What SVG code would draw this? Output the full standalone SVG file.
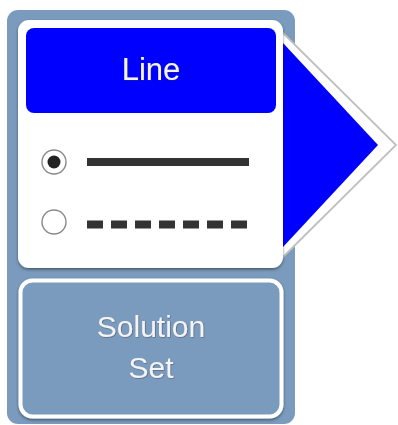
<svg xmlns="http://www.w3.org/2000/svg" width="398" height="425" viewBox="0 0 398 425">
  <defs>
    <filter id="shadow" x="-10%" y="-10%" width="120%" height="125%">
      <feDropShadow dx="0" dy="1.5" stdDeviation="1.5" flood-color="#000" flood-opacity="0.45"/>
    </filter>
    <filter id="txtShadow" x="-10%" y="-10%" width="120%" height="130%">
      <feDropShadow dx="0.6" dy="0.6" stdDeviation="0.4" flood-color="#334" flood-opacity="0.6"/>
    </filter>
  </defs>
  <style>
    .panel { fill: #7a9bbd; }
    .card { fill: #ffffff; }
    .label { font-family: "Liberation Sans", Arial, sans-serif; fill: #f4f4f4; text-anchor: middle; }
    .stroke-dark { stroke: #333333; stroke-width: 8; }
    .radio { fill: #ffffff; stroke: #8a8a8a; stroke-width: 1.4; }
  </style>

  <!-- background panel -->
  <rect class="panel" x="7" y="10" width="288" height="414" rx="11"/>

  <g id="line-card">
    <!-- pointer arrow -->
    <polygon points="281,31 396,145 281,259" fill="#ffffff" stroke="#c0c0c0" stroke-width="1.8"/>
    <polygon points="283,43 378,145 283,247" fill="#0000ff"/>
    <rect class="card" x="18" y="20" width="265" height="248" rx="11" filter="url(#shadow)"/>
    <rect x="26" y="28" width="250" height="85" rx="8" fill="#0000ff"/>
    <text class="label" x="151" y="80" font-size="31" filter="url(#txtShadow)">Line</text>
  </g>

  <g id="option-solid">
    <circle class="radio" cx="54" cy="162" r="12"/>
    <circle cx="54" cy="162" r="6.5" fill="#222222"/>
    <line class="stroke-dark" x1="87" y1="162" x2="249" y2="162"/>
  </g>

  <g id="option-dashed">
    <circle class="radio" cx="54" cy="222" r="12"/>
    <line class="stroke-dark" x1="87" y1="224.5" x2="247" y2="224.5" stroke-dasharray="16 8"/>
  </g>

  <g id="solution-set">
    <rect x="20.5" y="280.5" width="261" height="136" rx="12" fill="#7a9bbd" stroke="#ffffff" stroke-width="4" filter="url(#shadow)"/>
    <text class="label" x="151" y="337" font-size="30" filter="url(#txtShadow)">Solution</text>
    <text class="label" x="151" y="378" font-size="30" filter="url(#txtShadow)">Set</text>
  </g>
</svg>
